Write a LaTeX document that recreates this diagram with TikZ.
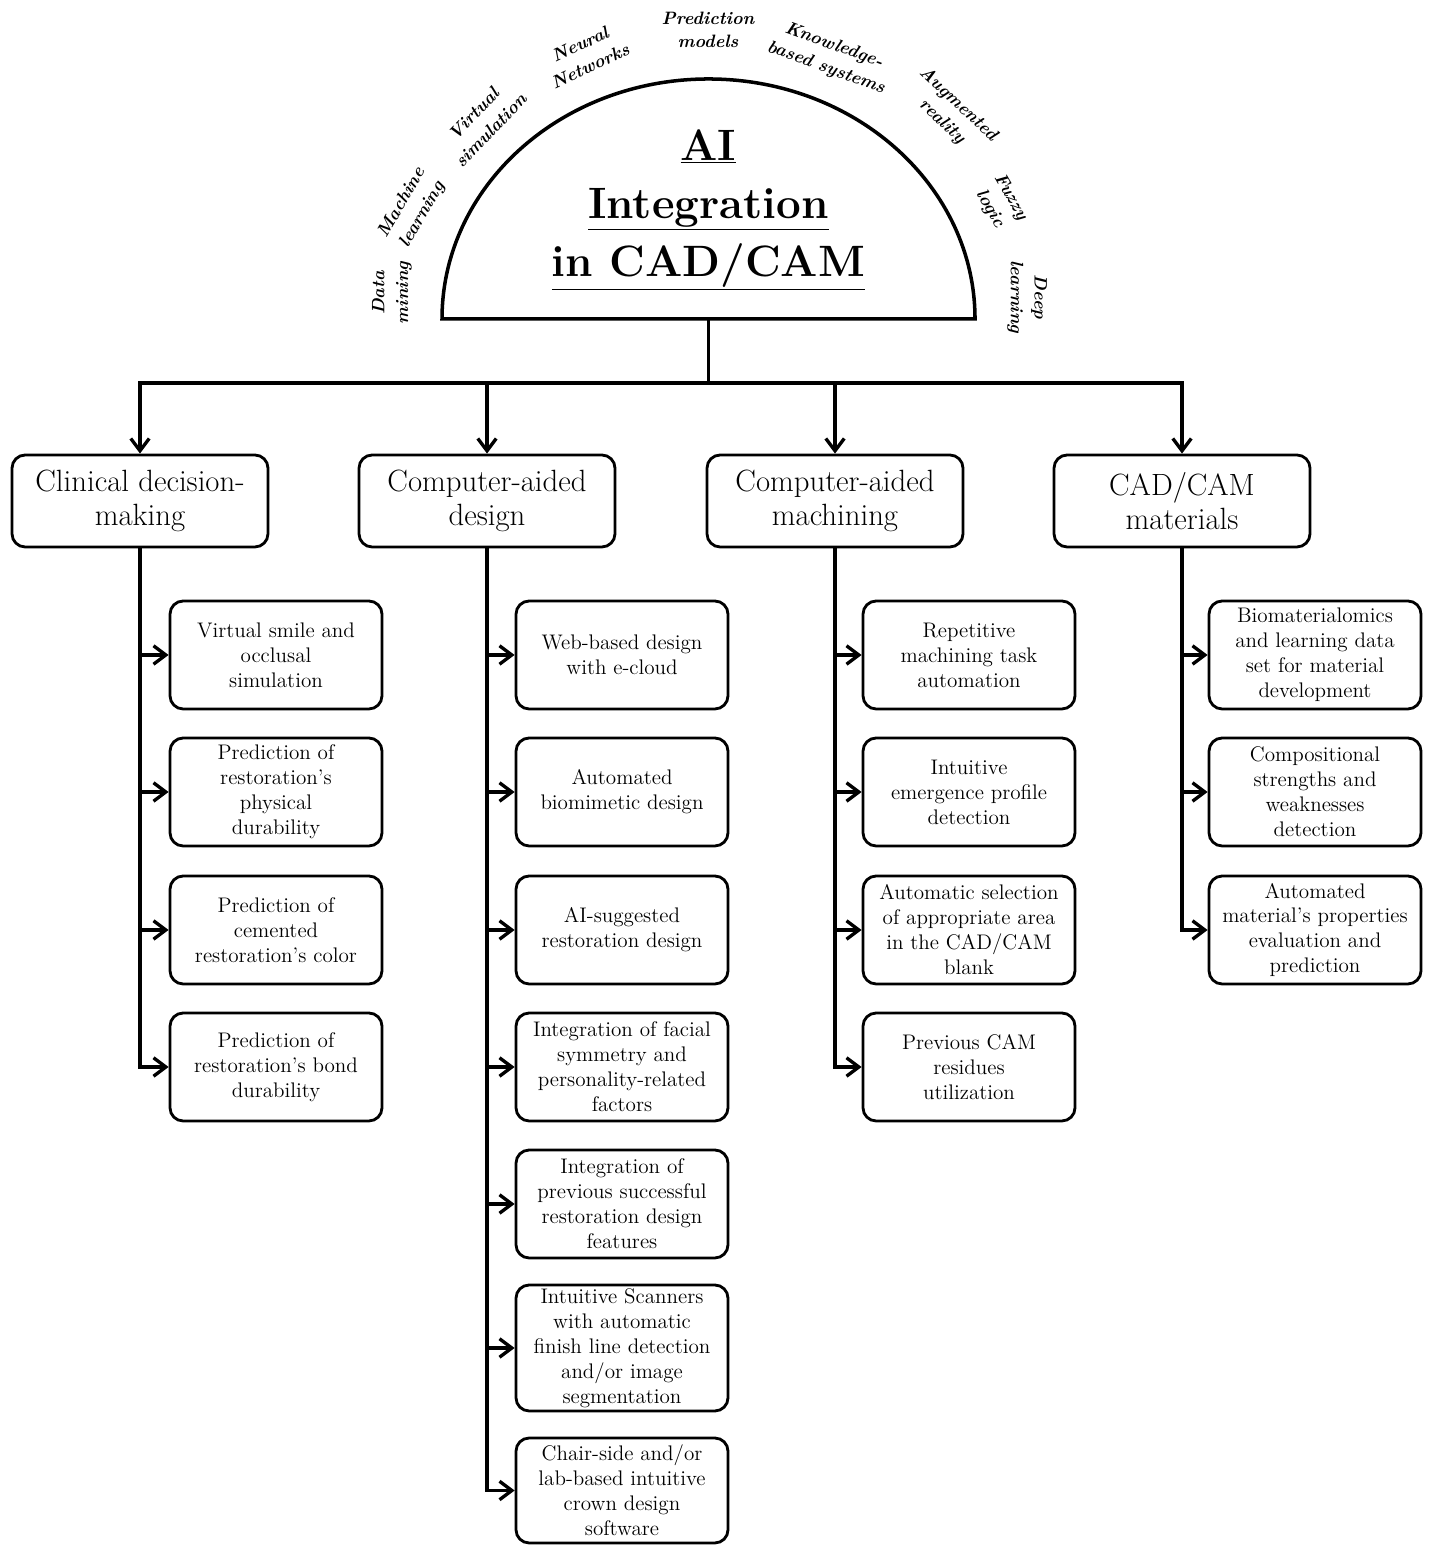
\documentclass[tikz,border=0pt]{standalone}
\usetikzlibrary{arrows.meta}

\tikzset{
  cadre/.style={draw, line width=1.6pt, rounded corners=7.5pt, align=center, inner sep=2pt},
  grand/.style={cadre, minimum width=5.12cm, minimum height=1.84cm, font=\fontsize{17.5}{19.5}\selectfont},
  petit/.style={cadre, minimum width=4.24cm, minimum height=2.16cm, font=\fontsize{12}{14.2}\selectfont},
  fleche/.style={line width=1.9pt, -{Straight Barb[length=7pt, width=10.5pt]}},
  motcle/.style={align=center, font=\fontsize{10.2}{13.5}\selectfont\bfseries\itshape}
}

\begin{document}
\begin{tikzpicture}
    % Fond
    \fill[white] (0,0) rectangle (28.64,30.9);

    % Demi-cercle
    \draw[line width=2pt] (8.84,24.52) arc[start angle=180, end angle=0, x radius=5.33cm, y radius=4.8cm] -- cycle;
    \node[align=center, font=\fontsize{25}{33}\selectfont\bfseries] (titre) at (14.17,26.7)
        {\underline{AI}\\\underline{Integration}\\\underline{in CAD/CAM}};

    % Mots-cles autour du demi-cercle
    \foreach \x/\y/\r/\txt [count=\i] in {
        7.84/25.04/90/{Data\\mining},
        8.24/26.72/60/{Machine\\learning},
        9.64/28.46/46/{Virtual\\simulation},
        11.7/29.8/25/{Neural\\Networks},
        14.16/30.3/0/{Prediction\\models},
        16.6/29.76/-20/{Knowledge-\\based systems},
        19.0/28.64/-43/{Augmented\\reality},
        20.0/26.84/-60/{Fuzzy\\logic},
        20.54/24.96/-90/{Deep\\learning}}
        \node[motcle, rotate=\r] (mot\i) at (\x,\y) {\txt};

    % Branches principales
    \coordinate (base) at (14.17,24.52);
    \coordinate (bus) at (14.17,23.24);
    \node[grand] (cdm) at (2.8,20.88) {Clinical decision-\\making};
    \node[grand] (cad) at (9.74,20.88) {Computer-aided\\design};
    \node[grand] (cam) at (16.7,20.88) {Computer-aided\\machining};
    \node[grand] (mat) at (23.64,20.88) {CAD/CAM\\materials};
    \draw[line width=1.9pt] (base) -- (bus);
    \foreach \n in {cdm,cad,cam,mat}
        \draw[fleche] (bus) -| (\n);

    % Clinical decision-making
    \node[petit] (cdm1) at (5.52,17.8) {Virtual smile and\\occlusal\\simulation};
    \node[petit] (cdm2) at (5.52,15.06) {Prediction of\\restoration's\\physical\\durability};
    \node[petit] (cdm3) at (5.52,12.3) {Prediction of\\cemented\\restoration's color};
    \node[petit] (cdm4) at (5.52,9.56) {Prediction of\\restoration's bond\\durability};
    \foreach \i in {1,...,4}
        \draw[fleche] (cdm.south) |- (cdm\i);

    % Computer-aided design
    \node[petit] (cad1) at (12.44,17.8) {Web-based design\\with e-cloud};
    \node[petit] (cad2) at (12.44,15.06) {Automated\\biomimetic design};
    \node[petit] (cad3) at (12.44,12.3) {AI-suggested\\restoration design};
    \node[petit] (cad4) at (12.44,9.56) {Integration of facial\\symmetry and\\personality-related\\factors};
    \node[petit] (cad5) at (12.44,6.82) {Integration of\\previous successful\\restoration design\\features};
    \node[petit, minimum height=2.46cm] (cad6) at (12.44,3.94) {Intuitive Scanners\\with automatic\\finish line detection\\and/or image\\segmentation};
    \node[petit, minimum height=2.1cm] (cad7) at (12.44,1.09) {Chair-side and/or\\lab-based intuitive\\crown design\\software};
    \foreach \i in {1,...,7}
        \draw[fleche] (cad.south) |- (cad\i);

    % Computer-aided machining
    \node[petit] (cam1) at (19.38,17.8) {Repetitive\\machining task\\automation};
    \node[petit] (cam2) at (19.38,15.06) {Intuitive\\emergence profile\\detection};
    \node[petit] (cam3) at (19.38,12.3) {Automatic selection\\of appropriate area\\in the CAD/CAM\\blank};
    \node[petit] (cam4) at (19.38,9.56) {Previous CAM\\residues\\utilization};
    \foreach \i in {1,...,4}
        \draw[fleche] (cam.south) |- (cam\i);

    % CAD/CAM materials
    \node[petit] (mat1) at (26.3,17.8) {Biomaterialomics\\and learning data\\set for material\\development};
    \node[petit] (mat2) at (26.3,15.06) {Compositional\\strengths and\\weaknesses\\detection};
    \node[petit] (mat3) at (26.3,12.3) {Automated\\material's properties\\evaluation and\\prediction};
    \foreach \i in {1,...,3}
        \draw[fleche] (mat.south) |- (mat\i);

\end{tikzpicture}
\end{document}
